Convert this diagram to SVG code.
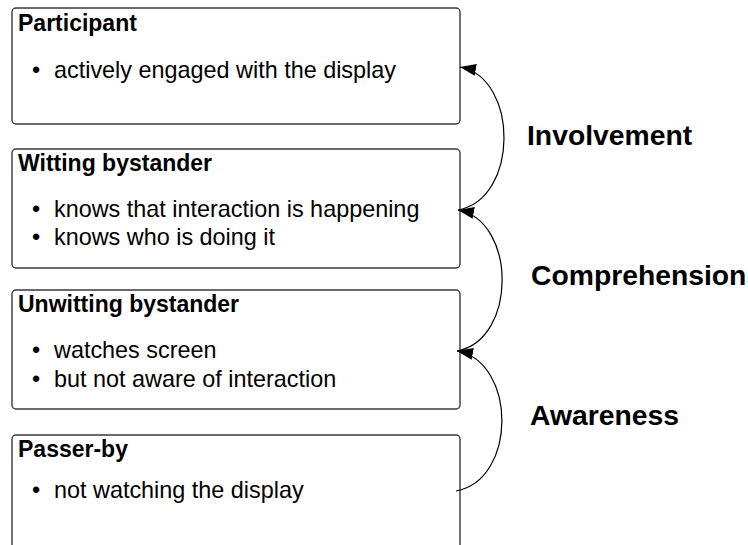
<svg xmlns="http://www.w3.org/2000/svg" width="748" height="545" viewBox="0 0 748 545">
  <style>
    .box { fill: #ffffff; stroke: #3a3a3a; stroke-width: 1.4; }
    .title { font-family: "Liberation Sans", Arial, sans-serif; font-size: 23px; font-weight: bold; fill: #000; }
    .item { font-family: "Liberation Sans", Arial, sans-serif; font-size: 23.4px; fill: #000; }
    .stage { font-family: "Liberation Sans", Arial, sans-serif; font-size: 28.3px; font-weight: bold; fill: #000; }
    .arc { fill: none; stroke: #000; stroke-width: 1.2; marker-end: url(#head); }
  </style>
  <defs>
    <marker id="head" markerUnits="userSpaceOnUse" markerWidth="17" markerHeight="13" refX="16" refY="6" orient="auto">
      <path d="M0,0 L16,6 L0,12 Z" fill="#000"/>
    </marker>
  </defs>
  <rect width="748" height="545" fill="#ffffff"/>

  <g id="participant">
    <rect class="box" x="12" y="8" width="448" height="116" rx="4"/>
    <text class="title" x="18" y="31">Participant</text>
    <text class="item" x="32" y="78">•</text>
    <text class="item" x="54" y="78">actively engaged with the display</text>
  </g>

  <g id="witting-bystander">
    <rect class="box" x="12" y="149" width="448" height="119" rx="4"/>
    <text class="title" x="18" y="171">Witting bystander</text>
    <text class="item" x="32" y="217">•</text>
    <text class="item" x="54" y="217">knows that interaction is happening</text>
    <text class="item" x="32" y="245">•</text>
    <text class="item" x="54" y="245">knows who is doing it</text>
  </g>

  <g id="unwitting-bystander">
    <rect class="box" x="12" y="290" width="448" height="119" rx="4"/>
    <text class="title" x="18" y="312">Unwitting bystander</text>
    <text class="item" x="32" y="358">•</text>
    <text class="item" x="54" y="358">watches screen</text>
    <text class="item" x="32" y="387">•</text>
    <text class="item" x="54" y="387">but not aware of interaction</text>
  </g>

  <g id="passer-by">
    <rect class="box" x="12" y="435" width="448" height="116" rx="4"/>
    <text class="title" x="18" y="457">Passer-by</text>
    <text class="item" x="32" y="498">•</text>
    <text class="item" x="54" y="498">not watching the display</text>
  </g>

  <g id="connectors">
    <path class="arc" d="M456,491 C517,480 517,362 457,351"/>
    <path class="arc" d="M457,351 C517,340 517,221 458,210"/>
    <path class="arc" d="M458,210 C519,199 519,78 460,67"/>
  </g>

  <g id="stage-labels">
    <text class="stage" x="527" y="145">Involvement</text>
    <text class="stage" x="531" y="285">Comprehension</text>
    <text class="stage" x="530" y="425">Awareness</text>
  </g>
</svg>
